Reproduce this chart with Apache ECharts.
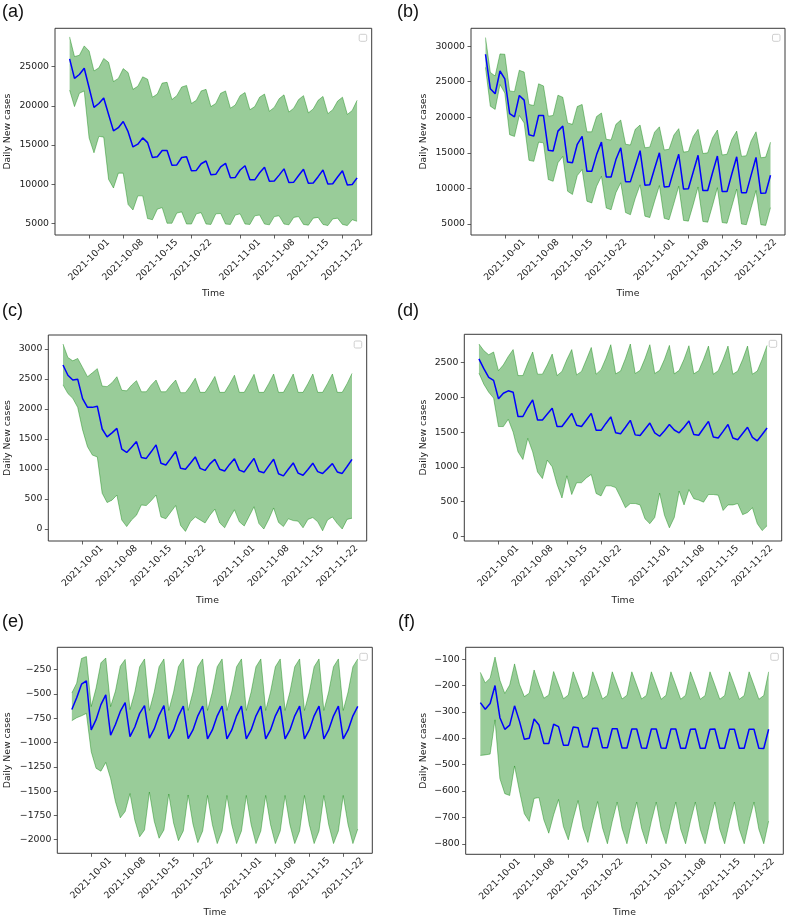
<!DOCTYPE html>
<html><head><meta charset="utf-8">
<script src="https://cdn.jsdelivr.net/npm/echarts@6/dist/echarts.min.js"></script>
<style>html,body{margin:0;padding:0;background:#fff}#c{width:790px;height:919px}</style>
</head><body><div id="c"></div>
<script>
// ---- data ----
const firstDay = [2021, 8, 27]; // 2021-09-27 (month 0-based)
const tickLabels = ['2021-10-01','2021-10-08','2021-10-15','2021-10-22','2021-11-01','2021-11-08','2021-11-15','2021-11-22'];

const aMean = [26000,23500,24000,24800,22300,19800,20300,21000,18900,16800,
 17200,18000,16700,14750,15100,15900,15300,13400,13500,14300,
 14300,12400,12450,13400,13500,11700,11750,12600,12950,11200,
 11250,12200,12650,10800,10850,11800,12350,10550,10550,11450,
 12150,10350,10400,11150,11950,10200,10250,11100,11900,10100,
 10150,10950,11800,10000,10050,10900,11700,9900,9950,10800];
const aUpper = [28800,26300,26450,27650,27000,24450,24850,26050,25550,23100,
 23500,24750,24250,22100,22500,23700,23400,21100,21500,22900,
 23000,20800,21300,22400,22600,20300,20700,21900,22100,19900,
 20300,21600,21900,19700,20100,21300,21700,19500,19900,21100,
 21500,19300,19800,20900,21400,19200,19700,20800,21300,19100,
 19600,20700,21200,19000,19500,20600,21100,18900,19400,20700];
const aLower = [22000,19900,21600,21900,15900,14000,16100,16000,10600,9500,
 11400,11400,7400,6700,8500,8500,5600,5450,6800,7000,
 5000,5000,6300,6450,4900,4900,6200,6350,4900,4850,
 6200,6250,4900,4850,6050,6200,4900,4850,5950,6050,
 4900,4800,5850,5950,4900,4800,5750,5850,4850,4750,
 5650,5750,4850,4700,5550,5650,4850,4700,5450,5250];

const bMean = [28850,24000,23300,26500,25400,20500,20050,23050,22400,17550,
 17350,20250,20250,15350,15250,18050,18750,13700,13600,16200,
 17300,12400,12400,14750,16500,11600,11600,14050,15700,10950,
 10950,13100,15300,10450,10500,12800,15000,10200,10250,12600,
 14800,9900,9950,12300,14650,9700,9700,12200,14550,9550,
 9550,12050,14450,9400,9400,11900,14350,9300,9350,11850];
const bUpper = [31200,26300,25800,28900,28850,23700,23600,26600,26350,21800,
 21650,24700,24400,20150,20250,23100,22800,19200,19000,21500,
 21800,17950,17950,20100,20600,16900,16800,19000,19600,16200,
 16100,18300,18900,15700,15800,17900,18650,15400,15500,17500,
 18400,15100,15200,17300,18300,14900,15000,17100,18200,14700,
 14800,16900,18050,14500,14600,16700,17950,14300,14400,16500];
const bLower = [27000,21550,21100,24600,23400,17550,17300,20250,19200,13950,
 13800,16500,16400,11250,11000,13600,14500,9600,9150,11800,
 12650,8200,7950,10300,11700,7250,7000,9400,10800,6600,
 6300,8600,10500,6100,5900,8200,10400,5800,5600,7900,
 10300,5500,5400,7700,10200,5350,5250,7600,10100,5200,
 5100,7500,9900,5000,4900,7300,9700,4900,4800,7300];

const cMean = [2730,2560,2480,2495,2170,2025,2025,2045,1665,1535,
 1600,1675,1330,1275,1360,1455,1190,1175,1285,1400,
 1095,1065,1175,1290,1010,995,1095,1200,1010,975,
 1085,1160,995,965,1075,1170,980,950,1065,1175,
 960,935,1050,1160,920,885,995,1100,930,895,
 990,1095,955,925,1005,1090,950,925,1040,1160];
const cUpper = [3080,2855,2800,2840,2690,2535,2600,2670,2380,2370,
 2435,2535,2310,2300,2395,2470,2285,2285,2395,2480,
 2285,2285,2390,2480,2270,2270,2380,2510,2275,2275,
 2400,2540,2275,2275,2410,2560,2275,2275,2420,2575,
 2275,2275,2420,2580,2275,2275,2420,2580,2275,2275,
 2420,2580,2275,2275,2420,2580,2275,2275,2420,2590];
const cLower = [2400,2255,2175,2025,1650,1370,1230,1200,595,440,
 480,565,150,40,150,230,400,390,470,565,
 200,170,280,390,60,-40,120,200,150,100,
 230,330,100,20,180,320,120,50,210,370,
 90,0,160,350,110,40,170,140,130,20,
 160,190,120,-30,150,200,90,0,160,180];

const dMean = [2555,2415,2290,2245,1980,2060,2095,2075,1725,1725,
 1855,1965,1675,1675,1760,1845,1580,1580,1675,1770,
 1600,1580,1675,1770,1525,1525,1625,1720,1490,1475,
 1570,1670,1460,1450,1540,1630,1490,1440,1520,1610,
 1530,1490,1570,1660,1465,1455,1555,1655,1430,1415,
 1510,1610,1415,1390,1480,1570,1425,1375,1465,1560];
const dUpper = [2770,2675,2615,2655,2385,2470,2590,2690,2315,2315,
 2495,2655,2335,2335,2470,2625,2315,2375,2545,2690,
 2325,2375,2545,2720,2335,2400,2565,2760,2340,2380,
 2560,2770,2345,2390,2560,2760,2345,2390,2550,2750,
 2340,2390,2550,2745,2340,2385,2550,2740,2335,2385,
 2550,2740,2335,2380,2545,2740,2335,2380,2550,2750];
const dLower = [2350,2190,2075,1990,1580,1580,1685,1500,1215,1105,
 1410,1215,925,830,1095,1000,745,550,870,600,
 770,770,840,890,615,580,725,725,700,560,
 410,470,470,450,250,180,270,620,300,120,
 270,650,450,670,540,520,490,600,600,590,
 370,450,450,470,310,340,410,180,80,150];

const eMean = [-660,-540,-400,-365,-870,-765,-610,-510,-925,-815,
 -680,-590,-940,-840,-700,-620,-955,-860,-720,-620,
 -960,-870,-725,-625,-960,-870,-725,-625,-962,-870,
 -725,-625,-962,-870,-725,-625,-962,-870,-725,-625,
 -962,-870,-725,-625,-962,-870,-725,-625,-962,-870,
 -725,-625,-962,-870,-725,-625,-962,-870,-725,-628];
const eUpper = [-490,-390,-135,-115,-630,-440,-180,-130,-630,-470,
 -215,-145,-660,-480,-220,-140,-670,-480,-220,-140,
 -670,-480,-220,-140,-670,-480,-220,-140,-670,-480,
 -220,-140,-670,-480,-220,-140,-670,-480,-220,-140,
 -670,-480,-220,-140,-670,-480,-220,-140,-670,-480,
 -220,-140,-670,-480,-220,-140,-670,-480,-220,-140];
const eLower = [-775,-745,-725,-700,-1095,-1265,-1295,-1205,-1370,-1610,
 -1775,-1710,-1525,-1800,-1970,-1900,-1510,-1810,-1985,-1900,
 -1530,-1830,-2010,-1910,-1540,-1840,-2030,-1910,-1545,-1845,
 -2040,-1910,-1545,-1845,-2040,-1910,-1545,-1845,-2040,-1910,
 -1545,-1845,-2040,-1910,-1545,-1845,-2040,-1910,-1545,-1845,
 -2040,-1910,-1545,-1845,-2040,-1910,-1545,-1845,-2040,-1890];

const fMean = [-265,-290,-268,-200,-322,-366,-350,-277,-335,-404,
 -400,-327,-350,-420,-420,-347,-356,-426,-426,-357,
 -360,-432,-433,-362,-362,-436,-436,-364,-364,-437,
 -437,-365,-365,-437,-438,-365,-365,-437,-438,-365,
 -365,-438,-438,-366,-365,-438,-438,-366,-365,-438,
 -438,-366,-366,-438,-438,-366,-366,-438,-439,-366];
const fUpper = [-150,-190,-172,-92,-180,-230,-198,-118,-195,-242,
 -229,-141,-198,-248,-236,-147,-198,-250,-236,-148,
 -198,-250,-236,-148,-198,-251,-237,-148,-199,-251,
 -237,-148,-199,-251,-237,-148,-199,-252,-237,-148,
 -199,-252,-237,-148,-199,-252,-238,-148,-199,-252,
 -238,-148,-199,-252,-238,-148,-199,-252,-238,-148];
const fLower = [-465,-463,-460,-330,-553,-610,-617,-505,-600,-686,
 -715,-628,-625,-710,-760,-690,-632,-735,-785,-705,
 -636,-740,-795,-712,-640,-740,-800,-715,-642,-742,
 -800,-715,-642,-742,-800,-715,-642,-745,-800,-715,
 -642,-745,-800,-715,-642,-745,-800,-715,-642,-745,
 -800,-715,-642,-745,-800,-715,-642,-745,-800,-714];

const yTicksA = [5000,10000,15000,20000,25000];
const yTicksB = [5000,10000,15000,20000,25000,30000];
const yTicksC = [0,500,1000,1500,2000,2500,3000];
const yTicksD = [0,500,1000,1500,2000,2500];
const yTicksE = [-2000,-1750,-1500,-1250,-1000,-750,-500,-250];
const yTicksF = [-800,-700,-600,-500,-400,-300,-200,-100];

// ---- dates ----
function dayStr(off){ const d=new Date(Date.UTC(firstDay[0],firstDay[1],firstDay[2]+off)); return d.toISOString().slice(0,10); }
const categories=[]; for(let i=-3;i<=62;i++) categories.push(dayStr(i));
const dates = categories.slice(3,63);

// ---- layout ----
const panels = [
 {lab:'(a)', mean:aMean, up:aUpper, lo:aLower, ticks:yTicksA, rng:[3500,29900], l:55, t:28.3, r:371.7, b:235, lx:2, ly:12, yx:7.5, ty:294},
 {lab:'(b)', mean:bMean, up:bUpper, lo:bLower, ticks:yTicksB, rng:[3450,32500], l:471, t:28.3, r:785, b:235, lx:397, ly:12, yx:424, ty:294},
 {lab:'(c)', mean:cMean, up:cUpper, lo:cLower, ticks:yTicksC, rng:[-200,3230], l:48.3, t:335, r:366.7, b:541, lx:2, ly:311, yx:7.5, ty:601},
 {lab:'(d)', mean:dMean, up:dUpper, lo:dLower, ticks:yTicksD, rng:[-70,2910], l:464.3, t:334.3, r:781.7, b:541, lx:397, ly:311, yx:424, ty:601},
 {lab:'(e)', mean:eMean, up:eUpper, lo:eLower, ticks:yTicksE, rng:[-2140,-20], l:57.3, t:647.3, r:372.3, b:853.3, lx:2, ly:622, yx:7.5, ty:913},
 {lab:'(f)', mean:fMean, up:fUpper, lo:fLower, ticks:yTicksF, rng:[-840,-55], l:465.7, t:647.3, r:783.3, b:854.3, lx:398, ly:622, yx:424, ty:913}
];

const FONT = '"DejaVu Sans", sans-serif';
const TXT = '#222';
const AX = '#3a3a3a';
const fill = 'rgba(0,128,0,0.4)';
const isTick = (idx,val)=>tickLabels.indexOf(val)>=0;
const fmt = v => v<0 ? '\u2212'+Math.abs(v) : String(v);

const grid=[], xAxis=[], yAxis=[], series=[], graphic=[];
panels.forEach((p,i)=>{
  grid.push({left:p.l, top:p.t, width:p.r-p.l, height:p.b-p.t, show:true, borderColor:AX, borderWidth:1, backgroundColor:'transparent', containLabel:false, outerBoundsMode:'none'});
  xAxis.push({type:'category', gridIndex:i, data:categories, boundaryGap:false, position:'bottom',
    axisLine:{show:false, onZero:false}, splitLine:{show:false},
    axisTick:{show:true, length:3.5, interval:isTick, lineStyle:{color:AX, width:0.8}},
    axisLabel:{interval:isTick, rotate:45, align:'center', verticalAlign:'middle', margin:25, fontSize:9.3, fontFamily:FONT, color:TXT, hideOverlap:false}});
  yAxis.push({type:'value', gridIndex:i, min:p.rng[0], max:p.rng[1], position:'left', splitLine:{show:false}, axisLine:{show:false, onZero:false},
    axisTick:{show:true, length:3.5, customValues:p.ticks, lineStyle:{color:AX, width:0.8}},
    axisLabel:{customValues:p.ticks, formatter:fmt, fontSize:9.3, fontFamily:FONT, color:TXT, margin:6}});
  series.push({type:'line', name:'lower'+i, xAxisIndex:i, yAxisIndex:i, stack:'band'+i, stackStrategy:'all', symbol:'none', silent:true,
    data:dates.map((d,j)=>[d,p.lo[j]]), lineStyle:{color:fill, width:1}, z:1});
  series.push({type:'line', name:'band'+i, xAxisIndex:i, yAxisIndex:i, stack:'band'+i, stackStrategy:'all', symbol:'none', silent:true,
    data:dates.map((d,j)=>[d,p.up[j]-p.lo[j]]), lineStyle:{color:fill, width:1}, areaStyle:{color:fill, opacity:1}, z:1});
  series.push({type:'line', name:'mean'+i, xAxisIndex:i, yAxisIndex:i, symbol:'none', silent:true,
    data:dates.map((d,j)=>[d,p.mean[j]]), lineStyle:{color:'#0000ff', width:1.5}, z:3});
  graphic.push({type:'text', x:p.lx, y:p.ly, style:{text:p.lab, font:'18px "Liberation Sans", Arial, sans-serif', fill:'#111', align:'left', verticalAlign:'middle'}});
  graphic.push({type:'text', x:p.yx, y:(p.t+p.b)/2, rotation:Math.PI/2, style:{text:'Daily New cases', font:'9.3px '+FONT, fill:TXT, align:'center', verticalAlign:'middle'}});
  graphic.push({type:'text', x:(p.l+p.r)/2, y:p.ty, style:{text:'Time', font:'9.3px '+FONT, fill:TXT, align:'center', verticalAlign:'middle'}});
  graphic.push({type:'rect', shape:{x:p.r-12.5, y:p.t+6, width:7.5, height:7, r:1.5}, style:{fill:'#fff', stroke:'#cfcfcf', lineWidth:1}, z:100});
});

const chart = echarts.init(document.getElementById('c'), null, {renderer:'canvas'});
chart.setOption({animation:false, backgroundColor:'#fff', grid, xAxis, yAxis, series, graphic});
</script>
</body></html>
